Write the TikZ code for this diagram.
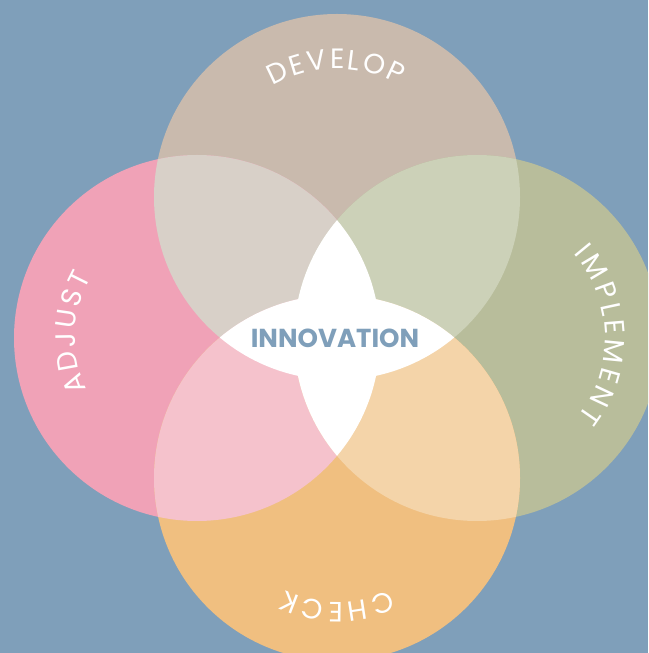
\documentclass[tikz,border=0pt]{standalone}
\usepackage{fontspec}
\setmainfont{Poppins}
\usepackage{tikz}
\usetikzlibrary{calc, decorations.text}
\definecolor{steelbg}{HTML}{7F9FBA}
\definecolor{developtan}{HTML}{C9BAAD}
\definecolor{adjustpink}{HTML}{F0A2B7}
\definecolor{implementolive}{HTML}{B8BD9B}
\definecolor{checkorange}{HTML}{F0BF80}
\definecolor{tanpink}{HTML}{D8D0C8}
\definecolor{tanolive}{HTML}{CCD1B8}
\definecolor{pinkorange}{HTML}{F5C2CC}
\definecolor{oliveorange}{HTML}{F4D4A9}

\begin{document}
\begin{tikzpicture}[x=1pt, y=1pt, line join=round]
    \useasboundingbox (0,0) rectangle (648,653);
    \clip (0,0) rectangle (648,653);
    \def\rad{183}

    \coordinate (develop) at (337,456);
    \coordinate (adjust) at (197,315);
    \coordinate (implement) at (477,315);
    \coordinate (check) at (337,175);

    \fill [steelbg] (0,0) rectangle (648,653);

    \fill [developtan] (develop) circle[radius=\rad];
    \fill [adjustpink] (adjust) circle[radius=\rad];
    \fill [implementolive] (implement) circle[radius=\rad];
    \fill [checkorange] (check) circle[radius=\rad];

    % overlaps of two circles
    \begin{scope}
        \clip (develop) circle[radius=\rad];
        \fill [tanpink] (adjust) circle[radius=\rad];
        \fill [tanolive] (implement) circle[radius=\rad];
    \end{scope}
    \begin{scope}
        \clip (check) circle[radius=\rad];
        \fill [pinkorange] (adjust) circle[radius=\rad];
        \fill [oliveorange] (implement) circle[radius=\rad];
    \end{scope}

    % white centre
    \begin{scope}
        \clip (adjust) circle[radius=\rad];
        \fill [white] (implement) circle[radius=\rad];
    \end{scope}
    \begin{scope}
        \clip (develop) circle[radius=\rad];
        \fill [white] (check) circle[radius=\rad];
    \end{scope}

    % labels on the circles
    \begin{scope}
        \fontsize{28}{32}\selectfont
        \path [decorate, decoration={text along path, text align=fit to path, text={|\color{white}|DEVELOP}}]
            ($(develop)+(120:128)$) arc[start angle=120, end angle=61, radius=128];
        \path [decorate, decoration={text along path, text align=fit to path, text={|\color{white}|IMPLEMENT}}]
            ($(implement)+(41:128)$) arc[start angle=41, end angle=-38, radius=128];
        \path [decorate, decoration={text along path, text align=fit to path, text={|\color{white}|CHECK}}]
            ($(check)+(-65:124)$) arc[start angle=-65, end angle=-115, radius=124];
        \path [decorate, decoration={text along path, text align=fit to path, text={|\color{white}|ADJUST}}]
            ($(adjust)+(205:122)$) arc[start angle=205, end angle=150, radius=122];
    \end{scope}

    \node [font=\fontsize{26}{30}\selectfont\bfseries, text=steelbg, anchor=base, inner sep=0pt] (innovation) at (335,305) {INNOVATION};
\end{tikzpicture}
\end{document}
